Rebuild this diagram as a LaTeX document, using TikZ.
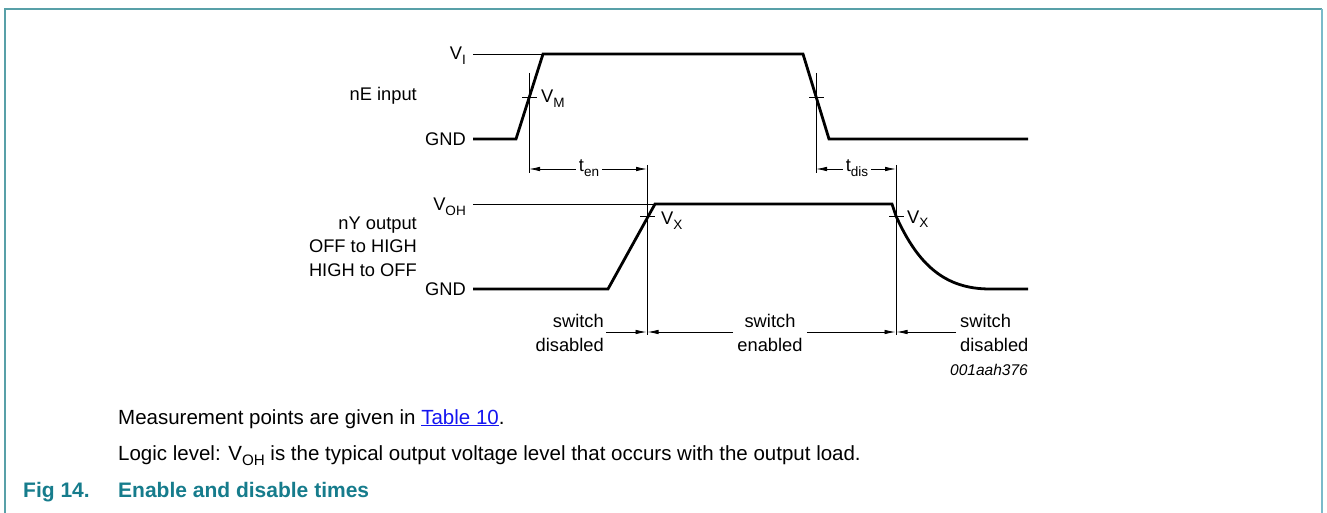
\documentclass[tikz,border=0pt]{standalone}
\usepackage{fontspec}
\setmainfont{Liberation Sans}
\usetikzlibrary{arrows.meta}
\definecolor{frameteal}{RGB}{88,160,168}
\definecolor{frameblue}{RGB}{122,186,202}
\definecolor{capteal}{RGB}{22,124,140}
\definecolor{linkblue}{RGB}{20,20,240}
\newcommand{\lowtxt}[1]{\raisebox{-0.25em}{\scalebox{0.74}{#1}}}

\begin{document}
\begin{tikzpicture}[x=1pt, y=-1pt,
    sig/.style={line width=2.8pt, line join=miter},
    ref/.style={line width=0.8pt},
    dim/.style={line width=0.8pt, -{Latex[length=11pt,width=4.5pt]}},
    lbl/.style={inner sep=0pt, font=\fontsize{18.3}{23.5}\selectfont},
    txt/.style={inner sep=0pt, anchor=base west, font=\fontsize{20.5}{24}\selectfont}]
    \useasboundingbox (0,0) rectangle (1327,513);
    % Frame
    \draw[frameteal, line width=2pt] (5,513) -- (5,9) -- (1322,9);
    \draw[frameblue, line width=2.4pt] (1322,9) -- (1322,513);

    % Waveform points
    \coordinate (in0) at (473,139);
    \coordinate (in1) at (516,139);
    \coordinate (in2) at (543,54);
    \coordinate (in3) at (803,54);
    \coordinate (in4) at (829,139);
    \coordinate (in5) at (1028,139);
    \coordinate (out0) at (473,289);
    \coordinate (out1) at (608,289);
    \coordinate (out2) at (655,204);
    \coordinate (out3) at (892,204);
    \coordinate (out4) at (990,289);
    \coordinate (out5) at (1028,289);
    \coordinate (vm1) at (529,97);
    \coordinate (vm2) at (816,97);
    \coordinate (vx1) at (647,216);
    \coordinate (vx2) at (896,216);

    % Levels
    \node (vi) [lbl, anchor=base east] at (466,60) {V\lowtxt{I}};
    \node (gnd1) [lbl, anchor=base east] at (466,145.5) {GND};
    \node (voh) [lbl, anchor=base east] at (466,211) {V\lowtxt{OH}};
    \node (gnd2) [lbl, anchor=base east] at (466,295.5) {GND};
    \node (nein) [lbl, anchor=base east] at (417,101) {nE input};
    \node (nyout) [lbl, anchor=north east, align=right] at (417,216.5)
    {nY output\\ OFF to HIGH\\ HIGH to OFF};
    \draw[ref] (473,54) -- (in2);
    \draw[ref] (473,204) -- (out2);

    % Signals
    \draw[sig] (in0) -- (in1) -- (in2) -- (in3) -- (in4) -- (in5);
    \draw[sig] (out0) -- (out1) -- (out2) -- (out3) -- (vx2)
    .. controls (918,265) and (945,289) .. (out4) -- (out5);

    % Measurement marks
    \draw[ref] (529,73) -- (529,173);
    \draw[ref] (816,73) -- (816,173);
    \draw[ref] (647,165) -- (647,335);
    \draw[ref] (896,165) -- (896,335);
    \draw[ref] (vm1) +(-7,0) -- +(8,0);
    \draw[ref] (vm2) +(-7,0) -- +(8,0);
    \draw[ref] (vx1) +(-7,0) -- +(8,0);
    \draw[ref] (vx2) +(-7,0) -- +(8,0);
    \node (vmA) [lbl, anchor=base west] at (541,103) {V\lowtxt{M}};
    \node (vxA) [lbl, anchor=base west] at (661,225) {V\lowtxt{X}};
    \node (vxB) [lbl, anchor=base west] at (907,223) {V\lowtxt{X}};

    % Times
    \coordinate (enL) at (529,169);
    \coordinate (enR) at (647,169);
    \coordinate (disL) at (816,169);
    \coordinate (disR) at (896,169);
    \node (ten) [lbl, inner sep=3pt] at (589,168) {t\lowtxt{en}};
    \node (tdis) [lbl, inner sep=3pt] at (857,168) {t\lowtxt{dis}};
    \draw[dim] (ten.west |- enL) -- (enL);
    \draw[dim] (ten.east |- enR) -- (enR);
    \draw[dim] (tdis.west |- disL) -- (disL);
    \draw[dim] (tdis.east |- disR) -- (disR);

    % Switch states
    \coordinate (swA) at (646.5,332);
    \coordinate (swB) at (647.5,332);
    \coordinate (swC) at (895.5,332);
    \coordinate (swD) at (896.5,332);
    \node (sw1) [lbl, inner sep=2pt, anchor=east, align=right] at (606,333)
    {switch\\ disabled};
    \node (sw2) [lbl, inner sep=4pt, align=center] at (770,333)
    {switch\\ enabled};
    \node (sw3) [lbl, inner sep=4pt, anchor=west, align=left] at (956,333)
    {switch\\ disabled};
    \draw[dim] (sw1.east |- swA) -- (swA);
    \draw[dim] (sw2.west |- swB) -- (swB);
    \draw[dim] (sw2.east |- swC) -- (swC);
    \draw[dim] (sw3.west |- swD) -- (swD);
    \node (fid) [inner sep=0pt, anchor=base east,
      font=\fontsize{15.5}{18}\selectfont\itshape] at (1028,375) {001aah376};

    % Notes
    \node (note1) [txt] at (118,424)
    {Measurement points are given in {\color{linkblue}\underline{Table 10}}.};
    \node (note2) [txt] at (118,460)
    {Logic level: V\lowtxt{OH} is the typical output voltage level that occurs with the output load.};
    \node (fig) [txt, font=\fontsize{21}{24}\selectfont\bfseries, text=capteal]
    at (23,497) {Fig 14.};
    \node (figt) [txt, font=\fontsize{21}{24}\selectfont\bfseries, text=capteal]
    at (118,497) {Enable and disable times};
\end{tikzpicture}
\end{document}
